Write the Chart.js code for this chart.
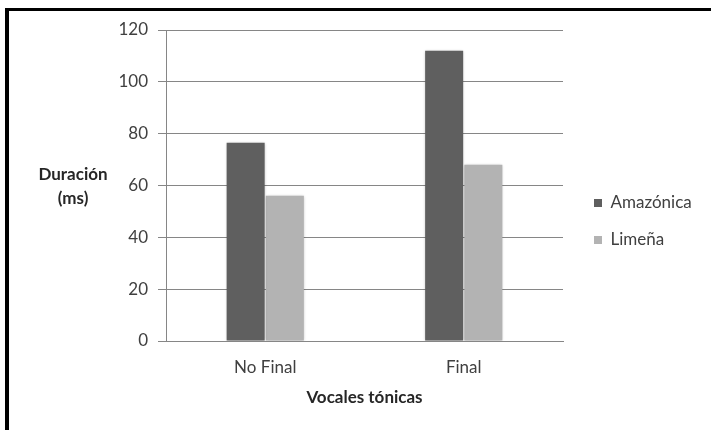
<!DOCTYPE html>
<html>
<head>
<meta charset="utf-8">
<script src="https://cdn.jsdelivr.net/npm/chart.js@4/dist/chart.umd.min.js"></script>
<style>
  html, body { margin: 0; padding: 0; background: #ffffff; }
  #wrap { width: 711px; height: 430px; position: relative; }
</style>
</head>
<body>
<div id="wrap"><canvas id="c" width="711" height="430"></canvas></div>
<script>
// Mean duration of stressed vowels by position, per variety
const categories = ['No Final', 'Final'];
const amazonica = [76.5, 112];
const limena = [56, 68];
const seriesNames = ['Amazónica', 'Limeña'];
const yTicks = [0, 20, 40, 60, 80, 100, 120];
const xTitle = 'Vocales tónicas';
const yTitleLines = ['Duración', '(ms)'];

const FONT = 'Lato';
const FS = 17;
const GRID = '#868686';
const TEXT = '#404040';
const TITLE = '#262626';
const LEGEND_PAD = 20;
const LEGEND_BOX = 8;
const LEGEND_WIDTH = 135;   // fixed legend column width (right side)
const PAD_RIGHT = 2;

Chart.defaults.font.family = FONT;
Chart.defaults.font.size = FS;
Chart.defaults.color = TEXT;

// black frame on the top and left edges
const framePlugin = {
  id: 'frame',
  beforeDraw(chart) {
    const ctx = chart.ctx;
    ctx.save();
    ctx.fillStyle = '#000000';
    ctx.fillRect(5, 8, chart.width - 5, 3);
    ctx.fillRect(5, 8, 4, chart.height - 8);
    ctx.restore();
  }
};

// give the legend a fixed width, like afterFit does for the scales
const legendWidthPlugin = {
  id: 'legendWidth',
  beforeLayout(chart) {
    const lg = chart.legend;
    if (lg && !lg.__fixedWidth) {
      const fit = lg.fit;
      lg.fit = function () {
        fit.call(this);
        this.width = LEGEND_WIDTH;
      };
      lg.__fixedWidth = true;
    }
  }
};

// soft shadow under the bars
const shadowPlugin = {
  id: 'barShadow',
  beforeDatasetsDraw(chart) {
    const ctx = chart.ctx;
    ctx.save();
    ctx.shadowColor = 'rgba(0,0,0,0.28)';
    ctx.shadowBlur = 3;
    ctx.shadowOffsetX = 0;
    ctx.shadowOffsetY = 0;
  },
  afterDatasetsDraw(chart) {
    chart.ctx.restore();
  }
};

// horizontal value-axis title, two lines, left of the tick labels
const yTitlePlugin = {
  id: 'yTitle',
  afterDraw(chart) {
    const s = chart.scales.y;
    const ctx = chart.ctx;
    ctx.save();
    ctx.font = 'bold ' + FS + 'px ' + FONT;
    ctx.fillStyle = TITLE;
    ctx.textAlign = 'center';
    ctx.textBaseline = 'middle';
    const cx = s.left + 73;
    const cy = (s.top + s.bottom) / 2 + 1;
    const lh = 24.5;
    yTitleLines.forEach((t, i) => {
      ctx.fillText(t, cx, cy + (i - (yTitleLines.length - 1) / 2) * lh);
    });
    ctx.restore();
  }
};

new Chart(document.getElementById('c'), {
  type: 'bar',
  data: {
    labels: categories,
    datasets: [
      { label: seriesNames[0], data: amazonica, backgroundColor: '#5f5f5f', borderWidth: 0 },
      { label: seriesNames[1], data: limena, backgroundColor: '#b3b3b3', borderWidth: 0 }
    ]
  },
  options: {
    responsive: false,
    animation: false,
    devicePixelRatio: 1,
    layout: { padding: { top: 30, left: 0, right: PAD_RIGHT, bottom: 17 } },
    categoryPercentage: 0.395,
    barPercentage: 0.97,
    plugins: {
      legend: {
        position: 'right',
        align: 'center',
        labels: {
          boxWidth: LEGEND_BOX,
          boxHeight: LEGEND_BOX,
          padding: LEGEND_PAD,
          color: TEXT,
          font: { size: FS, family: FONT }
        }
      },
      tooltip: { enabled: false }
    },
    scales: {
      x: {
        type: 'category',
        grid: { display: false, drawTicks: false },
        border: { display: true, color: GRID, width: 1 },
        ticks: { padding: 16, color: TEXT, font: { size: FS } },
        title: {
          display: true,
          text: xTitle,
          color: TITLE,
          font: { size: FS, weight: 'bold' },
          padding: { top: 0, bottom: 5 }
        },
        afterFit(s) { s.height = 72; }
      },
      y: {
        type: 'linear',
        position: 'left',
        min: yTicks[0],
        max: yTicks[yTicks.length - 1],
        afterBuildTicks(s) { s.ticks = yTicks.map(v => ({ value: v })); },
        grid: { color: GRID, tickColor: GRID, tickLength: 8, lineWidth: 1 },
        border: { display: true, color: GRID, width: 1 },
        ticks: { padding: 10, color: TEXT, font: { size: FS } },
        afterFit(s) { s.width = 166; }
      },
      gap: {
        type: 'linear',
        position: 'right',
        display: true,
        grid: { display: false, drawTicks: false },
        border: { display: false },
        ticks: { display: false },
        afterFit(s) { s.width = 11; }
      }
    }
  },
  plugins: [framePlugin, legendWidthPlugin, shadowPlugin, yTitlePlugin]
});
</script>
</body>
</html>
